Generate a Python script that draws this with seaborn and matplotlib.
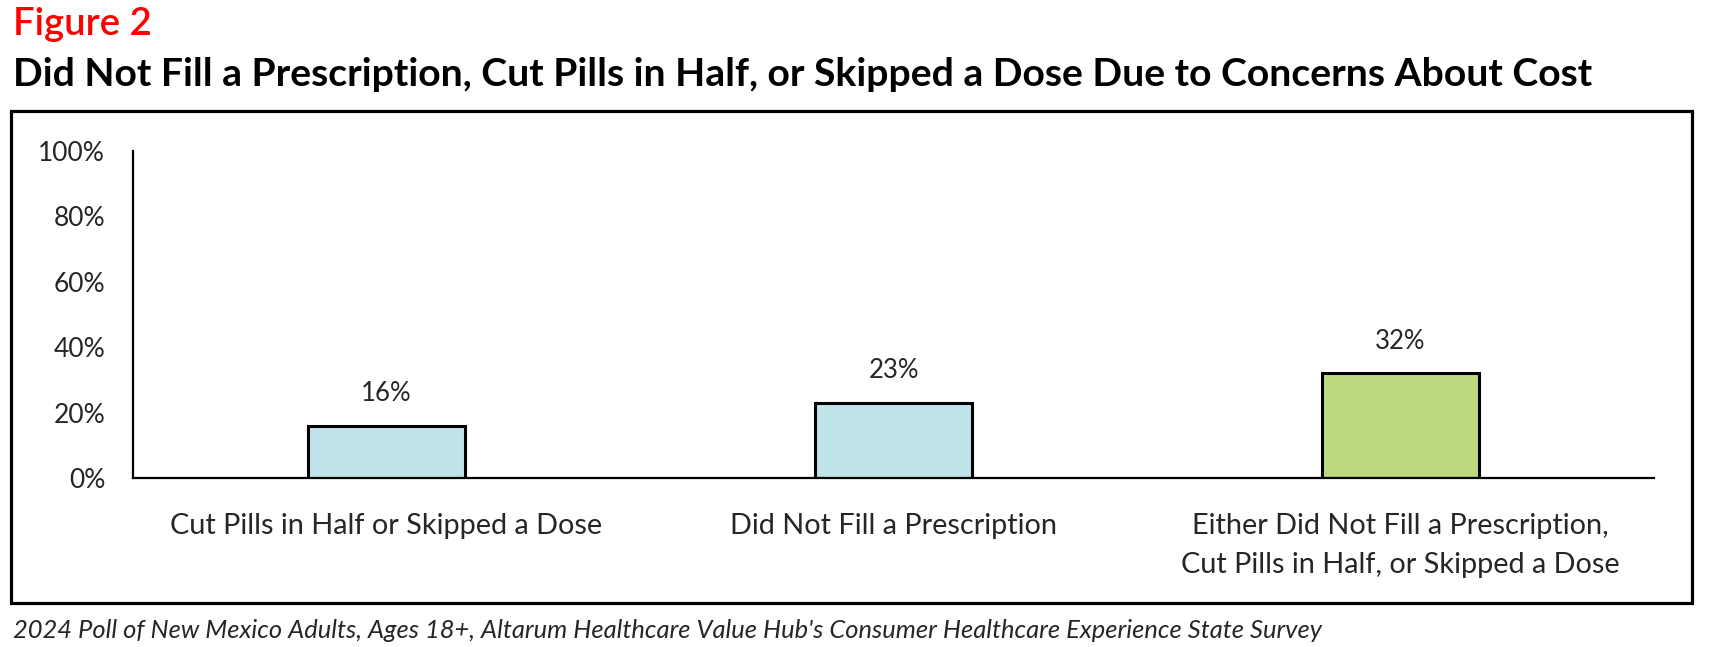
import matplotlib.pyplot as plt
import matplotlib.patches as mpatches
import pandas as pd
import seaborn as sns

categories = [
    "Cut Pills in Half or Skipped a Dose",
    "Did Not Fill a Prescription",
    "Either Did Not Fill a Prescription,\nCut Pills in Half, or Skipped a Dose",
]
values = [16, 23, 32]
bar_colors = ["#C0E4EA", "#C0E4EA", "#BDD97F"]
y_ticks = [0, 20, 40, 60, 80, 100]

title_fig = "Figure 2"
title = "Did Not Fill a Prescription, Cut Pills in Half, or Skipped a Dose Due to Concerns About Cost"
source = "2024 Poll of New Mexico Adults, Ages 18+, Altarum Healthcare Value Hub's Consumer Healthcare Experience State Survey"

sns.set_theme(style="white")
plt.rcParams["font.family"] = ["Lato", "DejaVu Sans"]

W, H = 1711, 647
fig = plt.figure(figsize=(W / 100, H / 100), dpi=100)
ax = fig.add_axes([133 / W, (H - 478) / H, (1654 - 133) / W, (478 - 151) / H])

df = pd.DataFrame({"category": categories, "value": values})
sns.barplot(data=df, x="category", y="value", hue="category", palette=bar_colors,
            width=0.31, edgecolor="black", linewidth=2.2, legend=False, ax=ax, saturation=1)

ax.set_ylim(0, 100)
ax.set_xlim(-0.5, 2.5)
ax.set_yticks(y_ticks)
ax.set_yticklabels([f"{t}%" for t in y_ticks], fontsize=19)
ax.tick_params(axis="y", length=0, pad=20)
ax.tick_params(axis="x", length=0, pad=25, labelsize=20.8)
ax.set_xlabel("")
ax.set_ylabel("")
for lbl in ax.get_xticklabels():
    lbl.set_linespacing(1.65)
for side in ["top", "right"]:
    ax.spines[side].set_visible(False)
for side in ["left", "bottom"]:
    ax.spines[side].set_color("black")
    ax.spines[side].set_linewidth(1.6)

for i, v in enumerate(values):
    ax.text(i, v + 6, f"{v}%", ha="center", va="bottom", fontsize=18.5)

# outer frame
fig.patches.append(mpatches.Rectangle((11 / W, (H - 603) / H), (1692 - 11) / W, (603 - 111) / H,
                                      transform=fig.transFigure, fill=False,
                                      edgecolor="black", linewidth=2.3))

fig.text(13 / W, 1 - 25 / H, title_fig, color="#FF0000", fontsize=27.5, fontweight="semibold", va="center")
fig.text(13 / W, 1 - 74 / H, title, color="black", fontsize=28.2, fontweight="bold", va="center")
fig.text(13 / W, 1 - 630 / H, source, fontsize=18.4, style="italic", va="center")

fig.savefig("out.png", dpi=100)
